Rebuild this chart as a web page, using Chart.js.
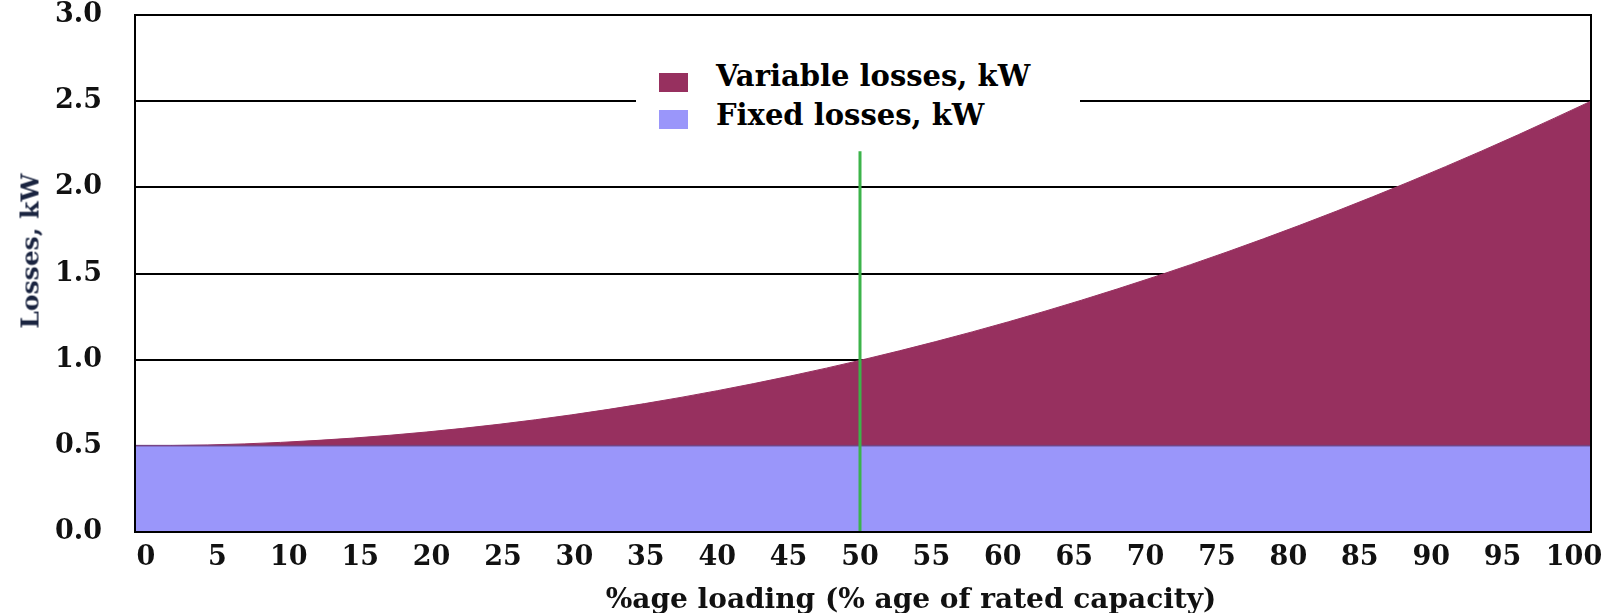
<!DOCTYPE html>
<html>
<head>
<meta charset="utf-8">
<script src="https://cdn.jsdelivr.net/npm/chart.js@4.4.1/dist/chart.umd.min.js"></script>
<style>
  html, body { margin: 0; padding: 0; background: #fff; }
  #wrap { position: relative; width: 1616px; height: 613px; }
  #legend {
    position: absolute; left: 636px; top: 52px; width: 444px; height: 98px;
    background: #fff; font-family: "DejaVu Serif", serif; font-weight: bold;
    font-size: 29px; color: #000;
  }
  .item { position: absolute; left: 0; white-space: nowrap; }
  .sw { position: absolute; width: 29px; height: 19px; }
  .lbl { position: absolute; left: 80px; }
  #ytitle {
    position: absolute; left: 30px; top: 251px; white-space: nowrap;
    transform: translate(-50%, -50%) rotate(-90deg);
    font-family: "DejaVu Serif", serif; font-weight: bold; font-size: 25px; color: #1a2440;
  }
  #xtitle {
    position: absolute; left: 911px; top: 598px; white-space: nowrap;
    transform: translate(-50%, -50%);
    font-family: "DejaVu Serif", serif; font-weight: bold; font-size: 28px; color: #111;
  }
</style>
</head>
<body>
<div id="wrap">
  <canvas id="c" width="1616" height="613" style="width:1616px;height:613px;"></canvas>
  <div id="ytitle">Losses, kW</div>
  <div id="xtitle">%age loading (% age of rated capacity)</div>
  <div id="legend">
    <div class="item" style="top:3px;"><span class="sw" style="left:23px; top:18px; background:#97305f;"></span><span class="lbl" style="top:4px;">Variable losses, kW</span></div>
    <div class="item" style="top:42px;"><span class="sw" style="left:23px; top:16px; background:#9a96fa;"></span><span class="lbl" style="top:4px;">Fixed losses, kW</span></div>
  </div>
</div>
<script>
// ---- data ----
const loading = [0, 5, 10, 15, 20, 25, 30, 35, 40, 45, 50, 55, 60, 65, 70, 75, 80, 85, 90, 95, 100];
const fixedLosses = [0.5, 0.5, 0.5, 0.5, 0.5, 0.5, 0.5, 0.5, 0.5, 0.5, 0.5, 0.5, 0.5, 0.5, 0.5, 0.5, 0.5, 0.5, 0.5, 0.5, 0.5];
const totalLosses = [0.5, 0.505, 0.52, 0.545, 0.58, 0.625, 0.68, 0.745, 0.82, 0.905, 1.0, 1.105, 1.22, 1.345, 1.48, 1.625, 1.78, 1.945, 2.12, 2.305, 2.5];
const xTickLabels = [0, 5, 10, 15, 20, 25, 30, 35, 40, 45, 50, 55, 60, 65, 70, 75, 80, 85, 90, 95, 100];
const yTickValues = [0, 0.5, 1.0, 1.5, 2.0, 2.5, 3.0];
const markerX = [50, 50];
const markerY = [0, 2.21];

const FONT = '"DejaVu Serif", serif';
const fixedPts = loading.map((x, i) => ({ x: x, y: fixedLosses[i] }));
const totalPts = loading.map((x, i) => ({ x: x, y: totalLosses[i] }));
const markerPts = markerX.map((x, i) => ({ x: x, y: markerY[i] }));

const framePlugin = {
  id: 'frame',
  afterDatasetsDraw(chart) {
    const a = chart.chartArea, ctx = chart.ctx;
    ctx.save();
    ctx.strokeStyle = '#000';
    ctx.lineWidth = 2;
    ctx.strokeRect(a.left, a.top, a.right - a.left, a.bottom - a.top);
    ctx.restore();
  }
};

new Chart(document.getElementById('c'), {
  type: 'line',
  data: {
    datasets: [
      {
        label: 'Fixed losses, kW',
        data: fixedPts,
        xAxisID: 'x', yAxisID: 'y',
        backgroundColor: '#9a96fa',
        borderColor: 'rgba(110,70,140,0.6)',
        borderWidth: 2,
        pointRadius: 0,
        fill: 'origin',
        order: 2
      },
      {
        label: 'Variable losses, kW',
        data: totalPts,
        xAxisID: 'x', yAxisID: 'y',
        backgroundColor: '#97305f',
        borderColor: '#97305f',
        borderWidth: 1,
        pointRadius: 0,
        fill: '-1',
        cubicInterpolationMode: 'monotone',
        order: 3
      },
      {
        label: 'marker',
        data: markerPts,
        xAxisID: 'x2', yAxisID: 'y',
        borderColor: '#3cb34a',
        borderWidth: 3,
        pointRadius: 0,
        fill: false,
        order: 0
      }
    ]
  },
  options: {
    responsive: false,
    maintainAspectRatio: false,
    animation: false,
    layout: { padding: { left: 0, right: 25, top: 15, bottom: 0 } },
    plugins: {
      legend: { display: false },
      title: { display: false },
      tooltip: { enabled: false }
    },
    scales: {
      x: {
        type: 'linear', display: false, min: 0, max: 100
      },
      x2: {
        type: 'linear', position: 'bottom', min: -0.77, max: 101.19,
        grid: { display: false, drawTicks: false },
        border: { display: false },
        afterBuildTicks(scale) { scale.ticks = xTickLabels.map(v => ({ value: v })); },
        afterFit(scale) { scale.height = 81; scale.paddingLeft = 0; scale.paddingRight = 0; },
        ticks: {
          autoSkip: false, maxRotation: 0, padding: 10, color: '#111',
          font: { family: FONT, weight: 'bold', size: 27 }
        },
        title: { display: false }
      },
      y: {
        type: 'linear', min: 0, max: 3,
        afterBuildTicks(scale) { scale.ticks = yTickValues.map(v => ({ value: v })); },
        afterFit(scale) { scale.width = 135; scale.paddingTop = 0; scale.paddingBottom = 0; },
        grid: { color: '#000', lineWidth: 2, drawTicks: false },
        border: { display: true, color: '#000', width: 2 },
        ticks: {
          padding: 33, color: '#111',
          callback: v => Number(v).toFixed(1),
          font: { family: FONT, weight: 'bold', size: 27 }
        },
        title: { display: false }
      }
    }
  },
  plugins: [framePlugin]
});
</script>
</body>
</html>
